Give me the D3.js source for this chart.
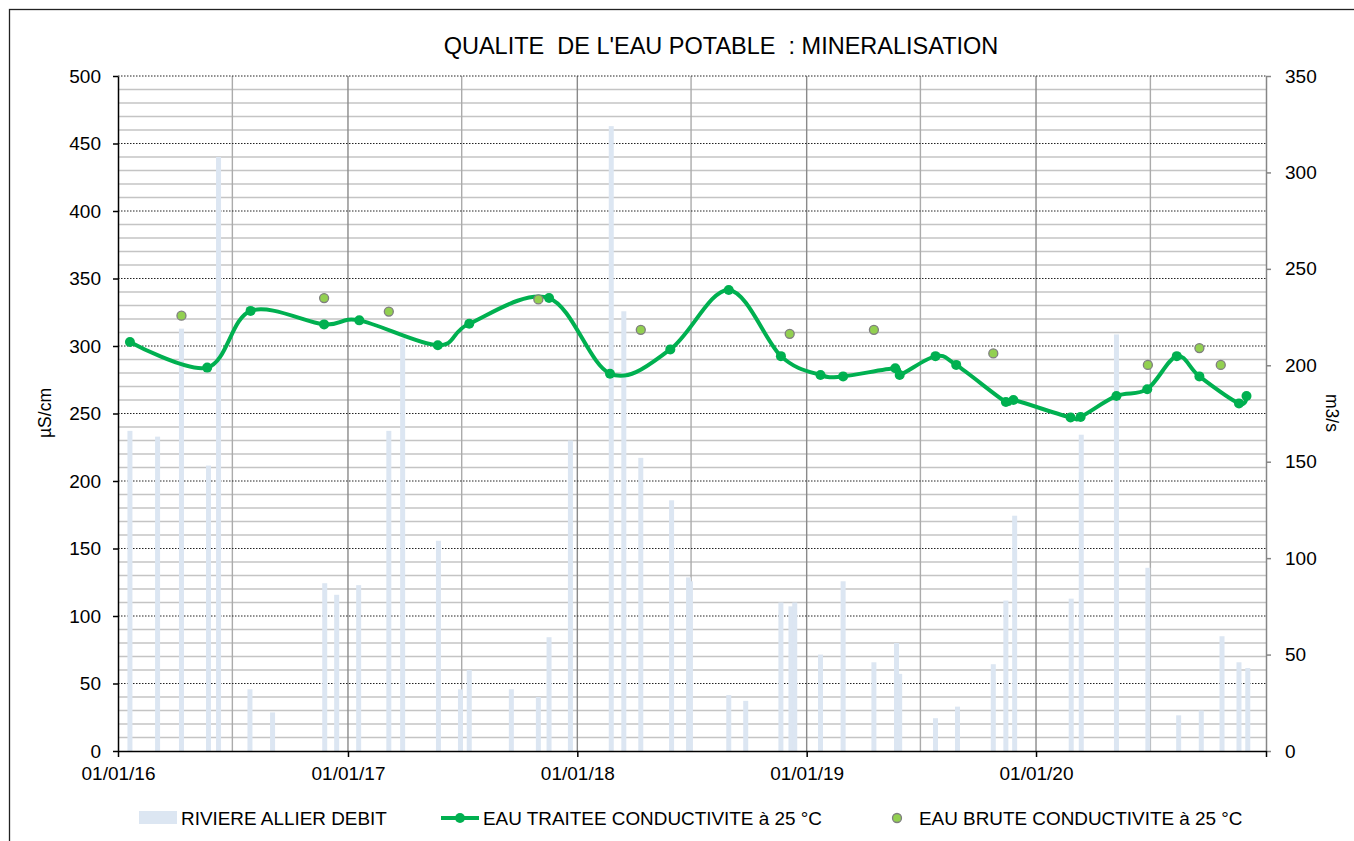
<!DOCTYPE html>
<html>
<head>
<meta charset="utf-8">
<script src="https://cdn.jsdelivr.net/npm/d3@7"></script>
<style>
	body { margin: 0; background: #fff; }
	text { font-family: "Liberation Sans", Arial, sans-serif; fill: #000; }
</style>
</head>
<body>
<script>
// River Allier flow (m3/s), right axis
var debitDates = ["2016-01-20", "2016-03-04", "2016-04-11", "2016-05-24", "2016-06-09", "2016-07-29",
	"2016-09-03", "2016-11-25", "2016-12-14", "2017-01-18", "2017-03-07", "2017-03-29", "2017-05-25",
	"2017-06-29", "2017-07-13", "2017-09-18", "2017-10-31", "2017-11-17", "2017-12-21", "2018-02-24",
	"2018-03-16", "2018-04-12", "2018-05-31", "2018-06-27", "2018-06-30", "2018-08-30", "2018-09-26",
	"2018-11-21", "2018-12-07", "2018-12-13", "2019-01-23", "2019-02-28", "2019-04-18", "2019-05-24",
	"2019-05-29", "2019-07-25", "2019-08-29", "2019-10-25", "2019-11-14", "2019-11-28", "2020-02-26",
	"2020-03-13", "2020-05-08", "2020-06-27", "2020-08-15", "2020-09-20", "2020-10-23", "2020-11-19",
	"2020-12-03"];
var debitValues = [166, 163, 219, 148, 308, 32,
	20, 87, 81, 86, 166, 214, 109,
	32, 42, 32, 28, 59, 161, 324,
	228, 152, 130, 90, 88, 29, 26,
	77, 75, 77, 50, 88, 46, 56,
	40, 17, 23, 45, 78, 122, 79,
	164, 216, 95, 18.5, 21, 59.5, 46,
	43];

// treated water conductivity (µS/cm), left axis
var traiteeDates = ["2016-01-20", "2016-05-22", "2016-07-30", "2016-11-24", "2017-01-19", "2017-05-24",
	"2017-07-13", "2017-11-17", "2018-02-22", "2018-05-29", "2018-08-30", "2018-11-21", "2019-01-23",
	"2019-02-28", "2019-05-22", "2019-05-29", "2019-07-25", "2019-08-27", "2019-11-14", "2019-11-26",
	"2020-02-25", "2020-03-12", "2020-05-08", "2020-06-26", "2020-08-12", "2020-09-17", "2020-11-19",
	"2020-12-01"];
var traiteeValues = [303, 284, 326, 316, 319, 300.5,
	316.5, 335.5, 279.5, 297.5, 341.5, 292.5, 278.5,
	277.5, 283.5, 278.5, 292.5, 286, 258.5, 260,
	247, 247.5, 263, 268, 292.5, 277.5, 257.5,
	263];

// raw water conductivity (µS/cm), left axis
var bruteDates = ["2016-04-11", "2016-11-24", "2017-03-07", "2017-10-31", "2018-04-12", "2018-12-05",
	"2019-04-18", "2019-10-25", "2020-06-27", "2020-09-17", "2020-10-21"];
var bruteValues = [322.5, 335.5, 325.5, 334.5, 312, 309,
	312, 294.5, 286, 298.5, 286];

var leftTicks = [0, 50, 100, 150, 200, 250, 300, 350, 400, 450, 500];
var rightTicks = [0, 50, 100, 150, 200, 250, 300, 350];
var yearTicks = ["2016-01-01", "2017-01-01", "2018-01-01", "2019-01-01", "2020-01-01", "2021-01-01"];

var title = "QUALITE  DE L'EAU POTABLE  : MINERALISATION";
var legendLabels = ["RIVIERE ALLIER DEBIT", "EAU TRAITEE CONDUCTIVITE à 25 °C", "EAU BRUTE CONDUCTIVITE à 25 °C"];

var width = 1354,
	height = 841;
var plot = { left: 118, right: 1266, top: 76, bottom: 751 };

var parse = d3.utcParse("%Y-%m-%d");
var fmt = d3.utcFormat("%d/%m/%y");

var x = d3.scaleUtc()
	.domain([parse("2016-01-01"), parse("2021-01-01")])
	.range([plot.left, plot.right]);
var y = d3.scaleLinear().domain([0, 500]).range([plot.bottom, plot.top]);
var yR = d3.scaleLinear().domain([0, 350]).range([plot.bottom, plot.top]);

var green = "#00b050",
	lightGreen = "#92d050",
	barBlue = "#dce6f2";

var svg = d3.select("body").append("svg")
	.attr("width", width)
	.attr("height", height);

svg.append("rect")
	.attr("width", width).attr("height", height)
	.attr("fill", "#fff");

// outer chart frame (cropped on right and bottom)
svg.append("rect")
	.attr("x", 9.5).attr("y", 9.5)
	.attr("width", 1400).attr("height", 900)
	.attr("fill", "none")
	.attr("stroke", "#222")
	.attr("stroke-width", 1.3);

svg.append("text")
	.attr("x", 721).attr("y", 54)
	.attr("text-anchor", "middle")
	.attr("font-size", 23.5)
	.style("white-space", "pre")
	.text(title);

// grid
var grid = svg.append("g");
var minor = d3.range(10, 500, 10).filter(function(v) { return v % 50 !== 0; });
grid.selectAll("line.minor")
	.data(minor)
	.enter().append("line")
		.attr("x1", plot.left).attr("x2", plot.right)
		.attr("y1", function(d) { return y(d); })
		.attr("y2", function(d) { return y(d); })
		.attr("stroke", "#c4c4c4")
		.attr("stroke-width", 1.4);

var halfYears = d3.utcMonth.every(6).range(parse("2016-07-01"), parse("2021-01-01"));
grid.selectAll("line.vert")
	.data(halfYears)
	.enter().append("line")
		.attr("x1", function(d) { return x(d); })
		.attr("x2", function(d) { return x(d); })
		.attr("y1", plot.top).attr("y2", plot.bottom)
		.attr("stroke", function(d) { return d.getUTCMonth() === 0 ? "#8a8a8a" : "#ababab"; })
		.attr("stroke-width", 1.4);

grid.selectAll("line.major")
	.data(leftTicks.slice(1))
	.enter().append("line")
		.attr("x1", plot.left).attr("x2", plot.right)
		.attr("y1", function(d) { return y(d); })
		.attr("y2", function(d) { return y(d); })
		.attr("stroke", "#222")
		.attr("stroke-width", 1)
		.attr("stroke-dasharray", "1.5,1.5");

// river flow bars
var bars = debitDates.map(function(d, i) { return { date: parse(d), value: debitValues[i] }; });
svg.append("g").selectAll("rect")
	.data(bars)
	.enter().append("rect")
		.attr("x", function(d) { return x(d.date) - 2.5; })
		.attr("width", 5)
		.attr("y", function(d) { return yR(d.value); })
		.attr("height", function(d) { return yR(0) - yR(d.value); })
		.attr("fill", barBlue);

// axes
function styleAxis(g) {
	g.attr("font-size", 19).attr("font-family", null);
	g.selectAll("text").style("font-family", '"Liberation Sans", Arial, sans-serif');
}

svg.append("g")
	.attr("transform", "translate(" + plot.left + ",0)")
	.call(d3.axisLeft(y).tickValues(leftTicks).tickSize(5).tickPadding(12).tickSizeOuter(0))
	.call(styleAxis)
	.call(function(g) { g.selectAll("line, path").attr("stroke", "#000").attr("stroke-width", 1.5); });

svg.append("g")
	.attr("transform", "translate(" + plot.right + ",0)")
	.call(d3.axisRight(yR).tickValues(rightTicks).tickSize(5).tickPadding(14).tickSizeOuter(0))
	.call(styleAxis)
	.call(function(g) { g.selectAll("line, path").attr("stroke", "#868686").attr("stroke-width", 1.5); });

svg.append("g")
	.attr("transform", "translate(0," + plot.bottom + ")")
	.call(d3.axisBottom(x)
		.tickValues(yearTicks.map(parse))
		.tickFormat(function(d) { return d.getUTCFullYear() === 2021 ? "" : fmt(d); })
		.tickSize(6).tickPadding(10).tickSizeOuter(0))
	.call(styleAxis)
	.call(function(g) { g.selectAll("line, path").attr("stroke", "#000").attr("stroke-width", 1.5); });

svg.append("text")
	.attr("transform", "translate(51,413) rotate(-90)")
	.attr("text-anchor", "middle")
	.attr("font-size", 17.5)
	.text("µS/cm");

svg.append("text")
	.attr("transform", "translate(1326,413) rotate(90)")
	.attr("text-anchor", "middle")
	.attr("font-size", 17.5)
	.text("m3/s");

// treated water line
var traitee = traiteeDates.map(function(d, i) { return { date: parse(d), value: traiteeValues[i] }; });
var line = d3.line()
	.x(function(d) { return x(d.date); })
	.y(function(d) { return y(d.value); })
	.curve(d3.curveCardinal.tension(0));

svg.append("path")
	.datum(traitee)
	.attr("d", line)
	.attr("fill", "none")
	.attr("stroke", green)
	.attr("stroke-width", 4);

svg.append("g").selectAll("circle")
	.data(traitee)
	.enter().append("circle")
		.attr("cx", function(d) { return x(d.date); })
		.attr("cy", function(d) { return y(d.value); })
		.attr("r", 5)
		.attr("fill", green);

// raw water points
var brute = bruteDates.map(function(d, i) { return { date: parse(d), value: bruteValues[i] }; });
svg.append("g").selectAll("circle")
	.data(brute)
	.enter().append("circle")
		.attr("cx", function(d) { return x(d.date); })
		.attr("cy", function(d) { return y(d.value); })
		.attr("r", 4.5)
		.attr("fill", lightGreen)
		.attr("stroke", "#7f7f7f")
		.attr("stroke-width", 1.3);

// legend
var legend = svg.append("g").attr("font-size", 18.9);
legend.append("rect")
	.attr("x", 139).attr("y", 811)
	.attr("width", 38).attr("height", 13)
	.attr("fill", barBlue);
legend.append("text").attr("x", 181).attr("y", 825).text(legendLabels[0]);

legend.append("line")
	.attr("x1", 441).attr("x2", 479)
	.attr("y1", 818).attr("y2", 818)
	.attr("stroke", green).attr("stroke-width", 4);
legend.append("circle")
	.attr("cx", 460).attr("cy", 818).attr("r", 5)
	.attr("fill", green);
legend.append("text").attr("x", 483).attr("y", 825).text(legendLabels[1]);

legend.append("circle")
	.attr("cx", 897).attr("cy", 818).attr("r", 4.5)
	.attr("fill", lightGreen)
	.attr("stroke", "#7f7f7f").attr("stroke-width", 1.3);
legend.append("text").attr("x", 919).attr("y", 825).text(legendLabels[2]);
</script>
</body>
</html>
